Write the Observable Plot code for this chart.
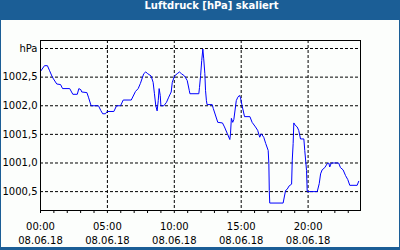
<!DOCTYPE html>
<html><head><meta charset="utf-8">
<script src="https://cdn.jsdelivr.net/npm/d3@7"></script>
<script src="https://cdn.jsdelivr.net/npm/@observablehq/plot@0.6"></script>
<style>
html,body{margin:0;padding:0;background:#fff}
#wrap{position:relative;width:400px;height:250px;background:#1b5e96;overflow:hidden}
#title{position:absolute;left:0;top:0;width:400px;height:20px;line-height:20px;color:#fff;font:bold 10px "DejaVu Sans";text-align:center;padding-left:23px;box-sizing:border-box}
#chart{position:absolute;left:1px;top:20px;width:398px;height:227px;background:#fcfefc}
</style></head><body>
<div id="wrap"><div id="title">Luftdruck [hPa] skaliert</div><div id="chart"></div></div>
<script>
// time in minutes since 00:00 on 08.06.18
const times = [0,18,31,40,51,58,73,90,99,131,145,165,172,181,185,208,215,227,260,270,279,291,299,329,341,359,371,407,426,438,448,463,472,481,496,505,511,517,523,528,532,537,540,553,565,575,586,591,601,613,623,632,646,658,667,670,710,713,718,723,728,732,737,740,744,747,770,775,795,816,825,837,849,852,856,862,867,878,885,892,897,903,915,939,949,964,974,983,990,1001,1010,1021,1024,1026,1028,1088,1099,1106,1115,1126,1129,1133,1136,1142,1151,1158,1166,1181,1185,1193,1196,1241,1250,1256,1263,1275,1286,1293,1297,1304,1337,1345,1357,1368,1378,1387,1420,1427];
const pressure = [1002.60,1002.70,1002.70,1002.62,1002.52,1002.47,1002.38,1002.37,1002.30,1002.30,1002.20,1002.20,1002.30,1002.28,1002.24,1002.23,1002.15,1002.00,1002.00,1001.92,1001.86,1001.86,1001.90,1001.90,1002.00,1002.00,1002.10,1002.10,1002.25,1002.30,1002.39,1002.56,1002.59,1002.56,1002.52,1002.41,1002.21,1002.00,1001.91,1002.09,1002.30,1002.18,1002.00,1002.00,1002.06,1002.15,1002.24,1002.41,1002.52,1002.56,1002.59,1002.56,1002.52,1002.44,1002.27,1002.21,1002.21,1002.32,1002.53,1002.79,1002.99,1002.82,1002.56,1002.27,1002.09,1002.02,1002.02,1001.95,1001.71,1001.70,1001.63,1001.52,1001.41,1001.51,1001.78,1001.71,1001.76,1002.09,1002.15,1002.18,1002.14,1002.02,1001.81,1001.81,1001.71,1001.63,1001.57,1001.45,1001.51,1001.45,1001.34,1001.22,1000.99,1000.52,1000.30,1000.30,1000.52,1000.54,1000.60,1000.63,1001.05,1001.34,1001.70,1001.66,1001.63,1001.57,1001.42,1001.42,1001.22,1000.87,1000.50,1000.50,1000.64,1000.81,1000.88,1000.92,1000.99,1001.00,1000.93,1001.00,1001.00,1000.92,1000.88,1000.78,1000.71,1000.61,1000.61,1000.68];

const yTicks = [1000.5, 1001.0, 1001.5, 1002.0, 1002.5, 1003.0];
const yLabels = ["1000,5", "1001,0", "1001,5", "1002,0", "1002,5", "hPa"];
const xTicks = [0, 300, 600, 900, 1200];
const xTimeLabels = ["00:00", "05:00", "10:00", "15:00", "20:00"];
const xDateLabels = ["08.06.18", "08.06.18", "08.06.18", "08.06.18", "08.06.18"];
const hourTicks = d3.range(0, 24).map(h => h * 60);

const data = times.map((t, i) => ({t, v: pressure[i]}));

const plot = Plot.plot({
  width: 398, height: 227,
  marginLeft: 39, marginRight: 39, marginTop: 20, marginBottom: 37,
  style: {fontFamily: "DejaVu Sans", fontSize: "10px", background: "transparent", color: "black"},
  x: {domain: [0, 1435], label: null},
  y: {domain: [1000.17, 1003.14], label: null},
  marks: [
    Plot.gridY(yTicks, {stroke: "black", strokeOpacity: 1, strokeDasharray: "3,2"}),
    Plot.gridX(xTicks, {stroke: "black", strokeOpacity: 1, strokeDasharray: "3,2"}),
    Plot.line(data, {x: "t", y: "v", stroke: "#0000ff", strokeWidth: 1}),
    Plot.frame({stroke: "black"}),
    Plot.axisY(yTicks, {tickSize: 0, tickPadding: 3, label: null, fill: "black",
      tickFormat: d => yLabels[yTicks.indexOf(d)]}),
    Plot.axisX(hourTicks, {tickSize: 3, text: null, label: null}),
    Plot.axisX(xTicks, {tickSize: 0, tickPadding: 9.5, label: null, fill: "black", lineHeight: 1.4,
      tickFormat: d => xTimeLabels[xTicks.indexOf(d)] + "\n" + xDateLabels[xTicks.indexOf(d)]})
  ]
});
document.getElementById("chart").appendChild(plot);
</script>
</body></html>
